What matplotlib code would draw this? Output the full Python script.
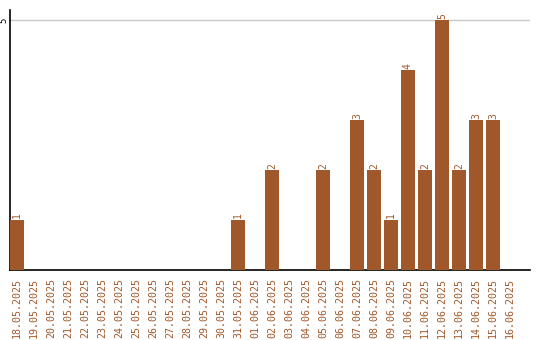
import matplotlib
matplotlib.use("Agg")
import matplotlib.pyplot as plt
import numpy as np

dates = ["18.05.2025", "19.05.2025", "20.05.2025", "21.05.2025", "22.05.2025",
         "23.05.2025", "24.05.2025", "25.05.2025", "26.05.2025", "27.05.2025",
         "28.05.2025", "29.05.2025", "30.05.2025", "31.05.2025", "01.06.2025",
         "02.06.2025", "03.06.2025", "04.06.2025", "05.06.2025", "06.06.2025",
         "07.06.2025", "08.06.2025", "09.06.2025", "10.06.2025", "11.06.2025",
         "12.06.2025", "13.06.2025", "14.06.2025", "15.06.2025", "16.06.2025"]
values = [1, 0, 0, 0, 0, 0, 0, 0, 0, 0, 0, 0, 0, 1, 0,
          2, 0, 0, 2, 0, 3, 2, 1, 4, 2, 5, 2, 3, 3, 0]

bar_color = "#A0582A"
text_color = "#A0582A"

fig = plt.figure(figsize=(5.4, 3.4), dpi=100)
ax = fig.add_axes([10/540, 70/340, 520/540, 260/340])

x = np.arange(len(dates))
ax.bar(x, values, width=0.82, color=bar_color, zorder=3)
for xi, v in zip(x, values):
    if v > 0:
        ax.text(xi, v + 0.03, str(v), rotation=90, ha="center", va="bottom",
                fontsize=7, color=text_color, family="DejaVu Sans Mono")

ax.set_xlim(-0.41, 30.18)
ax.set_ylim(0, 5.2)
ax.set_yticks([5])
ax.set_yticklabels(["5"], rotation=90, va="center", ha="right", fontsize=6.5,
                   family="DejaVu Sans Mono", color="black")
ax.yaxis.grid(True, color="#C8C8C8", linewidth=1, zorder=0)
ax.tick_params(axis="y", length=0, pad=1.5)
ax.set_xticks(x)
ax.set_xticklabels(dates, rotation=90, fontsize=7.2, color=text_color,
                   family="DejaVu Sans Mono")
ax.tick_params(axis="x", length=0, pad=6)
for s in ["top", "right"]:
    ax.spines[s].set_visible(False)
ax.spines["left"].set_color("black")
ax.spines["bottom"].set_color("black")
ax.spines["left"].set_linewidth(1.2)
ax.spines["bottom"].set_linewidth(1.2)

fig.savefig("out.png", dpi=100)
